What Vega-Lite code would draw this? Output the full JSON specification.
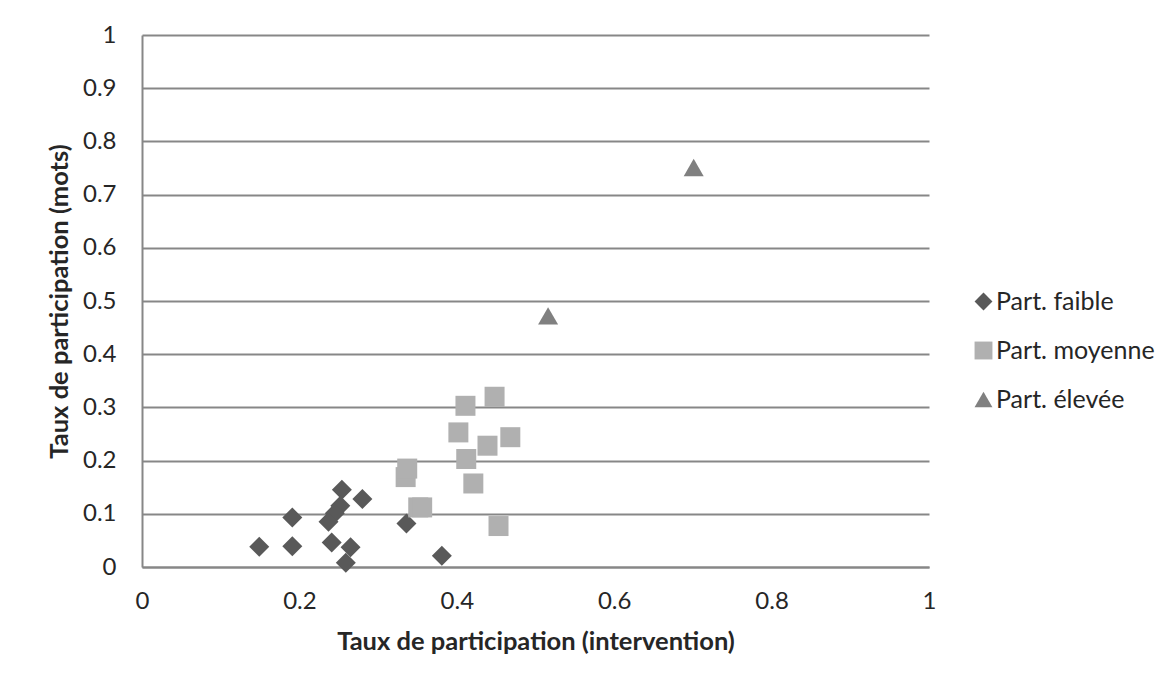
{
  "$schema": "https://vega.github.io/schema/vega-lite/v6.json",
  "width": 787,
  "height": 532,
  "autosize": {"type": "none"},
  "padding": {"left": 142, "top": 35, "right": 244, "bottom": 118},
  "background": "white",
  "config": {
    "font": "Lato",
    "view": {"stroke": null},
    "axis": {
      "labelFont": "Lato",
      "labelFontSize": 24,
      "labelColor": "#262626",
      "titleFont": "Lato",
      "titleFontSize": 25.5,
      "titleFontWeight": "bold",
      "titleColor": "#262626",
      "domainColor": "#878787",
      "domainWidth": 2,
      "gridColor": "#878787",
      "gridWidth": 2,
      "gridOpacity": 1,
      "ticks": false,
      "format": "~g"
    },
    "legend": {
      "labelFont": "Lato",
      "labelFontSize": 25,
      "labelColor": "#262626"
    }
  },
  "data": {
    "values": [
      {"x": 0.149, "y": 0.038, "group": "Part. faible"},
      {"x": 0.191, "y": 0.039, "group": "Part. faible"},
      {"x": 0.191, "y": 0.093, "group": "Part. faible"},
      {"x": 0.254, "y": 0.145, "group": "Part. faible"},
      {"x": 0.280, "y": 0.128, "group": "Part. faible"},
      {"x": 0.252, "y": 0.115, "group": "Part. faible"},
      {"x": 0.245, "y": 0.101, "group": "Part. faible"},
      {"x": 0.237, "y": 0.085, "group": "Part. faible"},
      {"x": 0.241, "y": 0.046, "group": "Part. faible"},
      {"x": 0.265, "y": 0.037, "group": "Part. faible"},
      {"x": 0.259, "y": 0.008, "group": "Part. faible"},
      {"x": 0.336, "y": 0.082, "group": "Part. faible"},
      {"x": 0.381, "y": 0.021, "group": "Part. faible"},
      {"x": 0.448, "y": 0.320, "group": "Part. moyenne"},
      {"x": 0.411, "y": 0.303, "group": "Part. moyenne"},
      {"x": 0.402, "y": 0.253, "group": "Part. moyenne"},
      {"x": 0.468, "y": 0.244, "group": "Part. moyenne"},
      {"x": 0.439, "y": 0.228, "group": "Part. moyenne"},
      {"x": 0.412, "y": 0.203, "group": "Part. moyenne"},
      {"x": 0.335, "y": 0.169, "group": "Part. moyenne"},
      {"x": 0.337, "y": 0.185, "group": "Part. moyenne"},
      {"x": 0.421, "y": 0.157, "group": "Part. moyenne"},
      {"x": 0.351, "y": 0.112, "group": "Part. moyenne"},
      {"x": 0.356, "y": 0.112, "group": "Part. moyenne"},
      {"x": 0.453, "y": 0.077, "group": "Part. moyenne"},
      {"x": 0.516, "y": 0.472, "group": "Part. élevée"},
      {"x": 0.701, "y": 0.751, "group": "Part. élevée"}
    ]
  },
  "mark": {"type": "point", "filled": true, "opacity": 1, "size": 400},
  "encoding": {
    "x": {
      "field": "x",
      "type": "quantitative",
      "scale": {"domain": [0, 1], "nice": false, "zero": true},
      "axis": {
        "title": "Taux de participation (intervention)",
        "values": [0, 0.2, 0.4, 0.6, 0.8, 1],
        "grid": false,
        "labelPadding": 22,
        "titlePadding": 16,
        "labelFlush": false
      }
    },
    "y": {
      "field": "y",
      "type": "quantitative",
      "scale": {"domain": [0, 1], "nice": false},
      "axis": {
        "title": "Taux de participation (mots)",
        "values": [0, 0.1, 0.2, 0.3, 0.4, 0.5, 0.6, 0.7, 0.8, 0.9, 1],
        "grid": true,
        "labelPadding": 26,
        "titlePadding": 10,
        "labelFlush": false
      }
    },
    "shape": {
      "field": "group",
      "type": "nominal",
      "scale": {
        "domain": ["Part. faible", "Part. moyenne", "Part. élevée"],
        "range": ["diamond", "square", "triangle-up"]
      },
      "legend": {
        "title": null,
        "orient": "none",
        "legendX": 829,
        "legendY": 254,
        "symbolSize": 320,
        "rowPadding": 23,
        "labelOffset": 0,
        "padding": 0
      }
    },
    "color": {
      "field": "group",
      "type": "nominal",
      "scale": {
        "domain": ["Part. faible", "Part. moyenne", "Part. élevée"],
        "range": ["#595959", "#b0b0b0", "#808080"]
      },
      "legend": {
        "title": null,
        "orient": "none",
        "legendX": 829,
        "legendY": 254,
        "symbolSize": 320,
        "rowPadding": 23,
        "labelOffset": 0,
        "padding": 0
      }
    },
    "order": {"field": "group", "sort": "ascending"}
  }
}
